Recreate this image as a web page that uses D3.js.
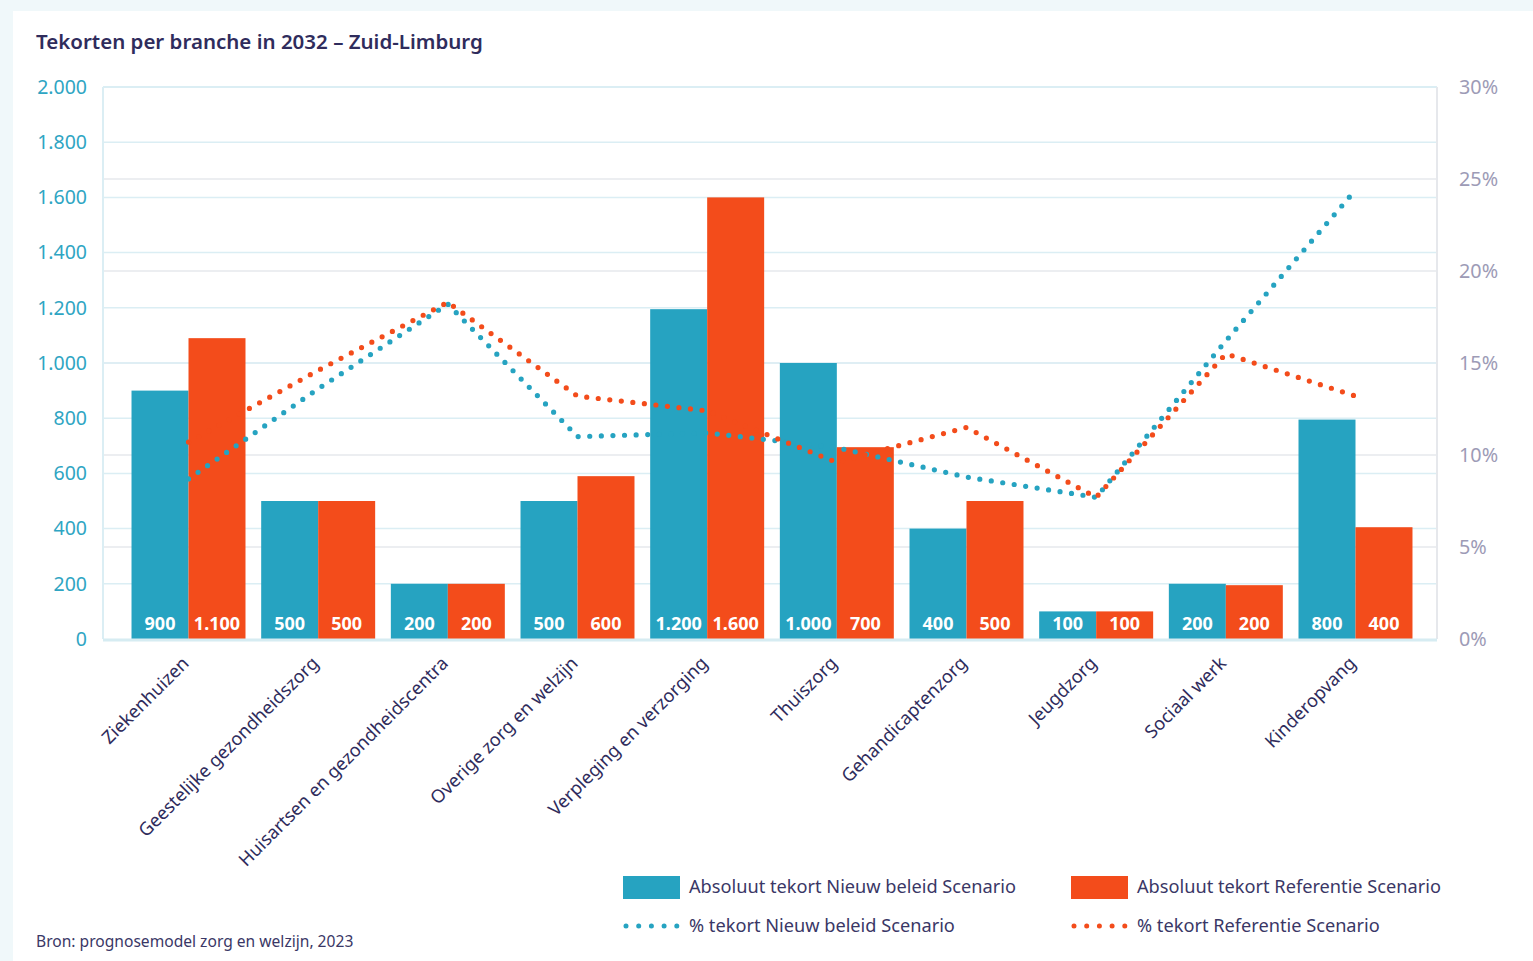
<!DOCTYPE html>
<html>
<head>
<meta charset="utf-8">
<script src="https://cdn.jsdelivr.net/npm/d3@7"></script>
<style>
  html, body { margin: 0; padding: 0; background: #f0f8fa; }
  svg { display: block; }
</style>
</head>
<body>
<svg id="chart" width="1533" height="961"></svg>
<script>
// ---- data ----
const categories = ["Ziekenhuizen", "Geestelijke gezondheidszorg", "Huisartsen en gezondheidscentra",
  "Overige zorg en welzijn", "Verpleging en verzorging", "Thuiszorg", "Gehandicaptenzorg",
  "Jeugdzorg", "Sociaal werk", "Kinderopvang"];
const absNieuw = [900, 500, 200, 500, 1195, 1000, 400, 100, 200, 795];
const absRef   = [1090, 500, 200, 590, 1600, 695, 500, 100, 195, 405];
const pctNieuw = [8.7, 13.6, 18.2, 11.0, 11.2, 10.4, 8.8, 7.7, 16.2, 24.4];
const pctRef   = [10.7, 14.6, 18.3, 13.2, 12.4, 9.6, 11.5, 7.7, 15.5, 13.2];
const leftTicks = [0, 200, 400, 600, 800, 1000, 1200, 1400, 1600, 1800, 2000];
const rightTicks = [0, 5, 10, 15, 20, 25, 30];
const seriesNames = ["Absoluut tekort Nieuw beleid Scenario", "Absoluut tekort Referentie Scenario",
  "% tekort Nieuw beleid Scenario", "% tekort Referentie Scenario"];
const title = "Tekorten per branche in 2032 – Zuid-Limburg";
const source = "Bron: prognosemodel zorg en welzijn, 2023";

// ---- style ----
const BLUE = "#26a3c1", ORANGE = "#f34c1b", NAVY = "#2f2c5c";
const FONT = "'Noto Sans', 'Open Sans', sans-serif";
const L = 103, R = 1437, T = 87, B = 639;

const nl = d3.formatLocale({decimal: ",", thousands: ".", grouping: [3], currency: ["€", ""]});
const fmt = nl.format(",");

const svg = d3.select("#chart");
svg.append("rect").attr("x", 13).attr("y", 11).attr("width", 1533 - 13).attr("height", 961 - 11).attr("fill", "#fff");

svg.append("text").attr("x", 36).attr("y", 49).text(title)
  .attr("font-family", FONT).attr("font-weight", 600).attr("font-size", 20.5).attr("fill", NAVY);

const x = d3.scaleBand().domain(categories).range([L + 2, R + 2]).paddingInner(0.121).paddingOuter(0.2045);
const xs = d3.scaleBand().domain(["n", "r"]).range([0, x.bandwidth()]);
const y = d3.scaleLinear().domain([0, 2000]).range([B, T]);
const y2 = d3.scaleLinear().domain([0, 30]).range([B, T]);

// grid lines
const g = svg.append("g");
g.selectAll(".g2").data(rightTicks.slice(1, -1)).join("line")
  .attr("x1", L).attr("x2", R).attr("y1", d => y2(d)).attr("y2", d => y2(d))
  .attr("stroke", "#e6e8ec").attr("stroke-width", 1.5);
g.selectAll(".g1").data(leftTicks.slice(1, -1)).join("line")
  .attr("x1", L).attr("x2", R).attr("y1", d => y(d)).attr("y2", d => y(d))
  .attr("stroke", "#dbeef4").attr("stroke-width", 1.5);
// frame
g.append("line").attr("x1", L).attr("x2", R).attr("y1", T).attr("y2", T).attr("stroke", "#dbeef4").attr("stroke-width", 2);
g.append("line").attr("x1", L).attr("x2", L).attr("y1", T).attr("y2", B).attr("stroke", "#dbeef4").attr("stroke-width", 2);
g.append("line").attr("x1", R).attr("x2", R).attr("y1", T).attr("y2", B).attr("stroke", "#e6e8ec").attr("stroke-width", 2);

// left axis
const ya = svg.append("g").attr("transform", `translate(${L},0)`)
  .call(d3.axisLeft(y).tickValues(leftTicks).tickFormat(fmt).tickSize(0).tickPadding(16));
ya.select(".domain").remove();
ya.selectAll("text").attr("font-family", FONT).attr("font-size", 19.5).attr("fill", "#2ea5c3");

// right axis
const ya2 = svg.append("g").attr("transform", `translate(${R},0)`)
  .call(d3.axisRight(y2).tickValues(rightTicks).tickFormat(d => d + "%").tickSize(0).tickPadding(22));
ya2.select(".domain").remove();
ya2.selectAll("text").attr("font-family", FONT).attr("font-size", 19.8).attr("fill", "#9d9bb6");

// bars
const rows = categories.map((c, i) => ({c, n: absNieuw[i], r: absRef[i]}));
const grp = svg.append("g").selectAll("g").data(rows).join("g").attr("transform", d => `translate(${x(d.c)},0)`);
grp.append("rect").attr("x", xs("n")).attr("width", xs.bandwidth()).attr("y", d => y(d.n)).attr("height", d => B - y(d.n)).attr("fill", BLUE);
grp.append("rect").attr("x", xs("r")).attr("width", xs.bandwidth()).attr("y", d => y(d.r)).attr("height", d => B - y(d.r)).attr("fill", ORANGE);
const lbl = v => fmt(Math.round(v / 100) * 100);
grp.append("text").attr("x", xs("n") + xs.bandwidth() / 2).attr("y", 630).attr("text-anchor", "middle").text(d => lbl(d.n))
  .attr("font-family", FONT).attr("font-weight", 700).attr("font-size", 18).attr("fill", "#fff");
grp.append("text").attr("x", xs("r") + xs.bandwidth() / 2).attr("y", 630).attr("text-anchor", "middle").text(d => lbl(d.r))
  .attr("font-family", FONT).attr("font-weight", 700).attr("font-size", 18).attr("fill", "#fff");

// baseline
svg.append("line").attr("x1", L).attr("x2", R).attr("y1", B + 1).attr("y2", B + 1).attr("stroke", "#d6ecf2").attr("stroke-width", 3);

// lines
const line = d3.line().x((d, i) => x(categories[i]) + x.bandwidth() / 2).y(d => y2(d)).curve(d3.curveLinear);
[[pctNieuw, BLUE], [pctRef, ORANGE]].forEach(([data, col]) => {
  svg.append("path").attr("d", line(data)).attr("fill", "none").attr("stroke", col)
    .attr("stroke-width", 5.2).attr("stroke-linecap", "round").attr("stroke-dasharray", "0 11.6");
});

// x labels
svg.append("g").selectAll("text").data(categories).join("text")
  .attr("transform", d => `translate(${x(d) + x.bandwidth() / 2 - 2},${661}) rotate(-45)`)
  .attr("text-anchor", "end").attr("dominant-baseline", "middle").text(d => d)
  .attr("font-family", FONT).attr("font-size", 18.2).attr("fill", NAVY);

// legend
const leg = [
  {x: 623, y: 887, type: "rect", col: BLUE, name: seriesNames[0]},
  {x: 1071, y: 887, type: "rect", col: ORANGE, name: seriesNames[1]},
  {x: 623, y: 926, type: "dot", col: BLUE, name: seriesNames[2]},
  {x: 1071, y: 926, type: "dot", col: ORANGE, name: seriesNames[3]},
];
leg.forEach(d => {
  if (d.type === "rect") {
    svg.append("rect").attr("x", d.x).attr("y", d.y - 11).attr("width", 57).attr("height", 23).attr("fill", d.col);
  } else {
    svg.append("line").attr("x1", d.x + 3).attr("x2", d.x + 56).attr("y1", d.y).attr("y2", d.y)
      .attr("stroke", d.col).attr("stroke-width", 5).attr("stroke-linecap", "round").attr("stroke-dasharray", "0 12.7");
  }
  svg.append("text").attr("x", d.x + 66).attr("y", d.y + 1).attr("dominant-baseline", "middle").text(d.name)
    .attr("font-family", FONT).attr("font-size", 18.2).attr("fill", "#3a3766");
});

svg.append("text").attr("x", 36).attr("y", 947).text(source)
  .attr("font-family", FONT).attr("font-size", 15.6).attr("fill", "#3a3766");
</script>
</body>
</html>
